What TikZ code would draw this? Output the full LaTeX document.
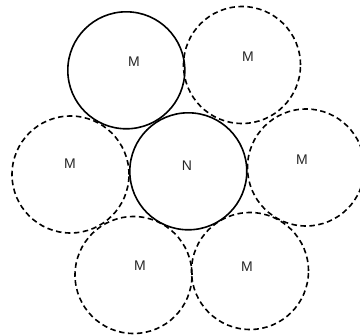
\documentclass[tikz,border=0pt]{standalone}
\usepackage{fontspec}
\setmainfont{Liberation Sans}
\usepackage{tikz}
\tikzset{
	ring/.style={circle,draw=black,line width=1.6pt,minimum size=117pt,inner sep=0pt},
	ghost/.style={ring,dashed,dash pattern=on 5.5pt off 3.5pt},
	tag/.style={text=black!85,font=\fontsize{14}{16}\selectfont,inner sep=0pt},
}
\begin{document}
\begin{tikzpicture}[x=1pt,y=-1pt]
	\clip (0,0) rectangle (360,335);
	% dashed neighbours
	\foreach \name/\x/\y/\lx/\ly in {tr/242/65/248/57,l/70.5/174.5/70/164,r/306/167.5/302/160,bl/133.5/275/140/266,br/250/271/247/267}
	{
		\node[ghost] (m\name) at (\x,\y) {};
		\node[tag] (t\name) at (\lx,\ly) {M};
	}
	% solid ones
	\node[ring] (mtl) at (126.3,70.3) {};
	\node[tag] (ttl) at (134,62) {M};
	\node[ring] (n) at (188.3,171.3) {};
	\node[tag] (tn) at (187,166) {N};
\end{tikzpicture}
\end{document}
